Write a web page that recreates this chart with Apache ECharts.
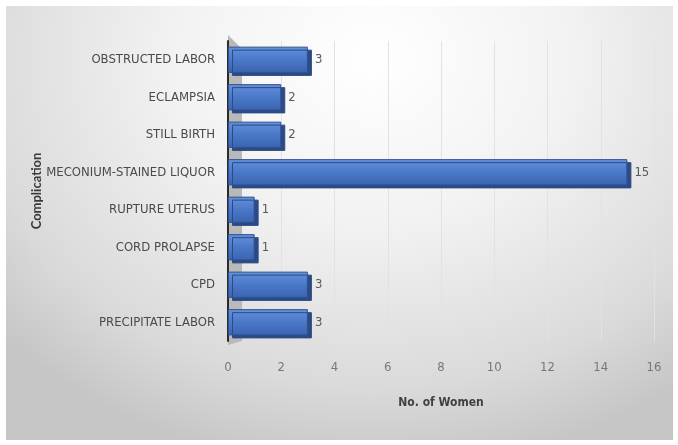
<!DOCTYPE html>
<html>
<head>
<meta charset="utf-8">
<script src="https://cdn.jsdelivr.net/npm/echarts@6/dist/echarts.min.js"></script>
<style>
  body { margin: 0; background: #fff; }
  #chart {
    position: absolute; left: 6px; top: 6px; width: 667px; height: 434px;
    background: radial-gradient(ellipse 75% 95% at 55% 12%, #ffffff 0%, #f2f2f2 40%, #dadada 80%, #c6c6c6 100%);
  }
</style>
</head>
<body>
<div id="chart"></div>
<script>
  // categories listed bottom to top (ECharts category axis order)
  let complications = ['PRECIPITATE LABOR', 'CPD', 'CORD PROLAPSE', 'RUPTURE UTERUS',
    'MECONIUM-STAINED LIQUOR', 'STILL BIRTH', 'ECLAMPSIA', 'OBSTRUCTED LABOR']
  let women = [3, 3, 1, 1, 15, 2, 2, 3]

  let chart = echarts.init(document.getElementById('chart'))
  let labelFont = '"DejaVu Sans Condensed", "Liberation Sans Narrow", sans-serif'
  let grid = {left: 222, right: 19, top: 35, bottom: 99}

  let option = {
    backgroundColor: 'transparent',
    animation: false,
    grid: grid,
    xAxis: {
      type: 'value',
      min: 0,
      max: 16,
      interval: 2,
      name: 'No. of Women',
      nameLocation: 'middle',
      nameGap: 56,
      nameTextStyle: {color: '#404040', fontSize: 12, fontWeight: 'bold', fontFamily: labelFont},
      axisLine: {show: false},
      axisTick: {show: false},
      axisLabel: {color: '#777777', fontSize: 13, margin: 20, fontFamily: labelFont},
      splitLine: {lineStyle: {color: '#e2e2e2', width: 1}}
    },
    yAxis: {
      type: 'category',
      data: complications,
      name: 'Complication',
      nameLocation: 'middle',
      nameGap: 185,
      nameRotate: 90,
      nameMoveOverlap: false,
      nameTextStyle: {color: '#3a3a3a', fontSize: 13, fontWeight: 'bold', fontFamily: 'Lato, sans-serif'},
      axisLine: {show: true, lineStyle: {color: '#2b2b2b', width: 2}},
      axisTick: {show: false},
      axisLabel: {color: '#4a4a4a', fontSize: 13, margin: 13, fontFamily: labelFont}
    },
    series: [{
      type: 'bar',
      data: women,
      barCategoryGap: '30%',
      itemStyle: {
        color: new echarts.graphic.LinearGradient(0, 0, 0, 1, [
          {offset: 0, color: '#6592dc'},
          {offset: 0.5, color: '#4a78c8'},
          {offset: 1, color: '#3a64b0'}
        ]),
        borderColor: '#2f528f',
        borderWidth: 1,
        shadowColor: '#2c4b85',
        shadowBlur: 0,
        shadowOffsetX: 4,
        shadowOffsetY: 3
      },
      label: {
        show: true,
        position: 'right',
        distance: 7,
        color: '#595959',
        fontSize: 13,
        fontFamily: labelFont
      }
    }]
  }
  chart.setOption(option)

  // grey side wall next to the value axis start (3D chart look)
  let x0 = chart.convertToPixel({xAxisIndex: 0}, 0)
  let h = chart.getHeight()
  chart.setOption({
    graphic: [{
      type: 'polygon',
      z: -1,
      shape: {points: [[x0, grid.top - 6], [x0 + 14, grid.top + 8], [x0 + 14, h - grid.bottom], [x0, h - grid.bottom + 4]]},
      style: {fill: '#b9b9b9'}
    }]
  })
</script>
</body>
</html>
